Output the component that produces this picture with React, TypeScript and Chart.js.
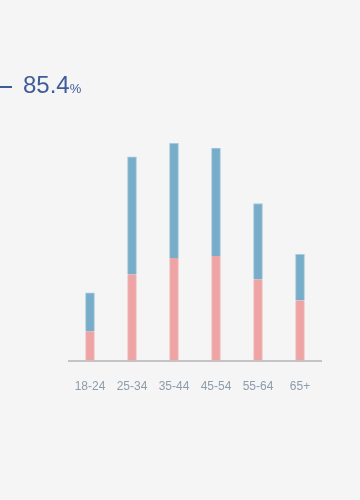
import React, { useEffect, useRef } from "react";
import { Chart, registerables } from "chart.js";

Chart.register(...registerables);

const categories = ["18-24", "25-34", "35-44", "45-54", "55-64", "65+"];
const pinkValues = [2.93, 8.6, 10.23, 10.43, 8.1, 6.0];
const blueValues = [3.84, 11.73, 11.44, 10.77, 7.57, 4.6];
const headlineValue = "85.4";

export default function App() {
  const ref = useRef<HTMLCanvasElement | null>(null);
  useEffect(() => {
    if (!ref.current) return;
    const chart = new Chart(ref.current, {
      type: "bar",
      data: {
        labels: categories,
        datasets: [
          {
            data: pinkValues,
            backgroundColor: "#eea4a4",
            borderColor: "#f4c4c4",
            borderWidth: { left: 1, right: 1, top: 0, bottom: 0 } as any,
            borderSkipped: false,
            barThickness: 9,
          },
          {
            data: blueValues,
            backgroundColor: "#78adc9",
            borderColor: "#a9cbe0",
            borderWidth: { left: 1, right: 1, top: 1, bottom: 0 } as any,
            borderSkipped: false,
            barThickness: 9,
          },
        ],
      },
      options: {
        animation: false,
        responsive: false,
        maintainAspectRatio: false,
        layout: { padding: { left: 69, right: 39, top: 110, bottom: 87 } },
        plugins: { legend: { display: false }, tooltip: { enabled: false } },
        scales: {
          x: {
            stacked: true,
            grid: { display: false, drawTicks: false },
            border: { display: true, color: "#c4c4c4", width: 2 },
            ticks: {
              color: "#8d9cab",
              padding: 19,
              font: { family: "'Liberation Sans', Arial, sans-serif", size: 12 },
            },
          },
          y: {
            stacked: true,
            display: false,
            min: 0,
            max: 25,
          },
        },
      },
    });
    return () => chart.destroy();
  }, []);
  return (
    <div
      style={{
        position: "fixed",
        left: 0,
        top: 0,
        width: 360,
        height: 500,
        background: "#f5f5f5",
        overflow: "hidden",
      }}
    >
      <canvas ref={ref} width={360} height={500} style={{ position: "absolute", left: 0, top: 0 }} />
      <div
        style={{
          position: "absolute",
          left: 0,
          top: 86,
          width: 12,
          height: 2,
          background: "#3f5c9a",
        }}
      />
      <div
        style={{
          position: "absolute",
          left: 23,
          top: 73,
          fontFamily: "'Liberation Sans', Arial, sans-serif",
          color: "#3f5c9a",
          whiteSpace: "nowrap",
          lineHeight: 1,
        }}
      >
        <span style={{ fontSize: 24 }}>{headlineValue}</span>
        <span style={{ fontSize: 13 }}>%</span>
      </div>
    </div>
  );
}
